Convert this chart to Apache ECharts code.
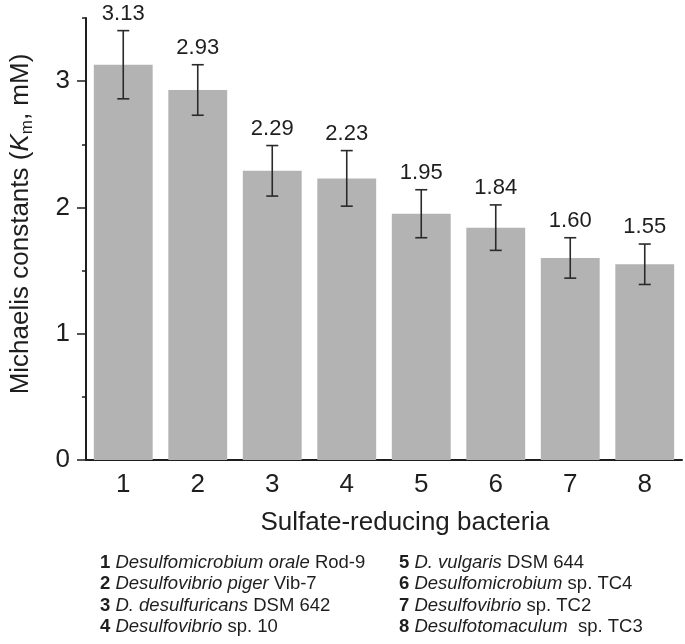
<!DOCTYPE html>
<html>
<head>
<meta charset="utf-8">
<script src="https://cdn.jsdelivr.net/npm/echarts@6/dist/echarts.min.js"></script>
<style>
  html, body { margin: 0; padding: 0; background: #fff; }
  #chart { width: 685px; height: 644px; }
</style>
</head>
<body>
<div id="chart"></div>
<script>
// data
const categories = ['1', '2', '3', '4', '5', '6', '7', '8'];
const kmValues = [3.13, 2.93, 2.29, 2.23, 1.95, 1.84, 1.60, 1.55];
const kmErrors = [0.27, 0.20, 0.20, 0.22, 0.19, 0.18, 0.16, 0.16];
const yMajorTicks = [0, 1, 2, 3];
const yMinorTicks = [0.5, 1.5, 2.5, 3.5];

// strain legend below the chart
const strainNums = ['1', '2', '3', '4', '5', '6', '7', '8'];
const strainGenus = ['Desulfomicrobium orale', 'Desulfovibrio piger', 'D. desulfuricans', 'Desulfovibrio',
  'D. vulgaris', 'Desulfomicrobium', 'Desulfovibrio', 'Desulfotomaculum'];
const strainRest = ['Rod-9', 'Vib-7', 'DSM 642', 'sp. 10', 'DSM 644', 'sp. TC4', 'sp. TC2', ' sp. TC3'];

const FONT = "'Liberation Sans', Arial, sans-serif";
const INK = '#1e1e1e';

const chart = echarts.init(document.getElementById('chart'));

// legend lines as graphic text
const legendRowY = [563, 584, 606, 627];
const legendColX = [100, 399];
const legendItems = strainNums.map((n, i) => ({
  type: 'text',
  left: legendColX[Math.floor(i / 4)],
  top: legendRowY[i % 4] - 10,
  style: {
    text: '{b|' + n + '} {i|' + strainGenus[i] + '} ' + strainRest[i],
    font: '18.5px ' + FONT,
    fill: INK,
    rich: {
      b: { fontWeight: 'bold', fontSize: 18.5, fontFamily: FONT, fill: INK },
      i: { fontStyle: 'italic', fontSize: 18.5, fontFamily: FONT, fill: INK }
    }
  }
}));

// error bars + value labels
function renderErrorBar(params, api) {
  const idx = api.value(0);
  const v = api.value(1);
  const e = api.value(2);
  const top = api.coord([idx, v + e]);
  const bot = api.coord([idx, v - e]);
  const hw = 6;
  const lineStyle = { stroke: '#2a2a2a', lineWidth: 1.6 };
  return {
    type: 'group',
    children: [
      { type: 'line', shape: { x1: top[0], y1: top[1], x2: bot[0], y2: bot[1] }, style: lineStyle },
      { type: 'line', shape: { x1: top[0] - hw, y1: top[1], x2: top[0] + hw, y2: top[1] }, style: lineStyle },
      { type: 'line', shape: { x1: bot[0] - hw, y1: bot[1], x2: bot[0] + hw, y2: bot[1] }, style: lineStyle },
      {
        type: 'text',
        style: {
          text: v.toFixed(2),
          x: top[0],
          y: top[1] - 6,
          align: 'center',
          verticalAlign: 'bottom',
          font: '22px ' + FONT,
          fill: INK
        }
      }
    ]
  };
}

chart.setOption({
  backgroundColor: '#fff',
  animation: false,
  grid: { left: 80, right: 3, top: 18, bottom: 184 },
  xAxis: [
    {
      type: 'category',
      position: 'bottom',
      data: categories,
      name: 'Sulfate-reducing bacteria',
      nameLocation: 'middle',
      nameGap: 50,
      nameTextStyle: { fontSize: 26, fontFamily: FONT, color: INK, padding: [0, 0, 0, 42] },
      axisLine: { lineStyle: { color: INK, width: 2 } },
      axisTick: { alignWithLabel: true, length: 9, lineStyle: { color: INK, width: 1.5 } },
      axisLabel: { fontSize: 26, fontFamily: FONT, color: INK, margin: 12 }
    },
    {
      // boundary ticks between bars
      type: 'category',
      position: 'bottom',
      data: categories,
      axisLine: { show: false },
      axisTick: { length: 5, lineStyle: { color: INK, width: 1.5 } },
      axisLabel: { show: false }
    }
  ],
  yAxis: [
    {
      type: 'value',
      position: 'left',
      min: 0,
      max: 3.5,
      name: '{t|Michaelis constants (}{k|K}{s|m}{t|, mM)}',
      nameLocation: 'middle',
      nameRotate: 90,
      nameGap: 50,
      nameTextStyle: {
        padding: [0, 0, 0, 30],
        rich: {
          t: { fontSize: 26, fontFamily: FONT, color: INK, lineHeight: 30 },
          k: { fontSize: 26, fontFamily: FONT, fontStyle: 'italic', color: INK, lineHeight: 30 },
          s: { fontSize: 17, fontFamily: FONT, color: INK, verticalAlign: 'bottom', lineHeight: 20 }
        }
      },
      splitLine: { show: false },
      axisLine: { show: true, lineStyle: { color: INK, width: 2 } },
      axisTick: { show: true, length: 9, customValues: yMajorTicks, lineStyle: { color: INK, width: 1.5 } },
      axisLabel: { fontSize: 26, fontFamily: FONT, color: INK, margin: 16, customValues: yMajorTicks }
    },
    {
      type: 'value',
      position: 'left',
      min: 0,
      max: 3.5,
      splitLine: { show: false },
      axisLine: { show: false },
      axisTick: { show: true, length: 4, customValues: yMinorTicks, lineStyle: { color: INK, width: 1.5 } },
      axisLabel: { show: false }
    }
  ],
  series: [
    {
      type: 'bar',
      xAxisIndex: 0,
      yAxisIndex: 0,
      data: kmValues,
      barCategoryGap: '21%',
      itemStyle: { color: '#b3b3b3' },
      z: 2
    },
    {
      type: 'custom',
      xAxisIndex: 0,
      yAxisIndex: 0,
      data: kmValues.map((v, i) => [i, v, kmErrors[i]]),
      renderItem: renderErrorBar,
      z: 3
    }
  ],
  graphic: legendItems
});
</script>
</body>
</html>
